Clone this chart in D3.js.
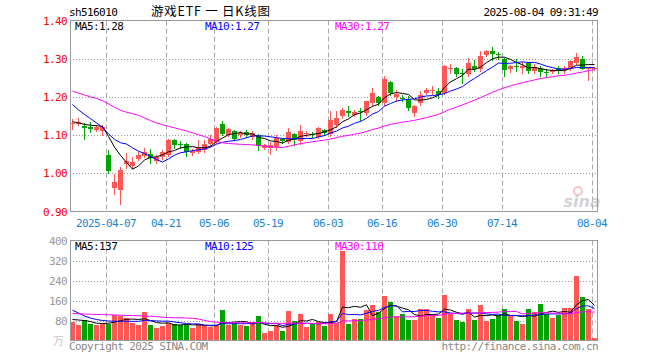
<!DOCTYPE html>
<html><head><meta charset="utf-8">
<script src="https://cdn.jsdelivr.net/npm/d3@7"></script>
<style>body{margin:0;background:#fff}</style>
</head><body>
<script>
const dates = ["03-27","03-28","03-31","04-01","04-02","04-03","04-07","04-08","04-09","04-10","04-11","04-14","04-15","04-16","04-17","04-18","04-21","04-22","04-23","04-24","04-25","04-28","04-29","04-30","05-06","05-07","05-08","05-09","05-12","05-13","05-14","05-15","05-16","05-19","05-20","05-21","05-22","05-23","05-26","05-27","05-28","05-29","05-30","06-03","06-04","06-05","06-06","06-09","06-10","06-11","06-12","06-13","06-16","06-17","06-18","06-19","06-20","06-23","06-24","06-25","06-26","06-27","06-30","07-01","07-02","07-03","07-04","07-07","07-08","07-09","07-10","07-11","07-14","07-15","07-16","07-17","07-18","07-21","07-22","07-23","07-24","07-25","07-28","07-29","07-30","07-31","08-01","08-04"];
const opens = [1.130,1.130,1.123,1.120,1.114,1.111,1.048,0.962,0.956,1.025,1.018,1.037,1.046,1.050,1.031,1.043,1.049,1.086,1.077,1.077,1.053,1.055,1.061,1.077,1.082,1.130,1.101,1.111,1.099,1.108,1.094,1.101,1.067,1.066,1.068,1.089,1.083,1.103,1.084,1.103,1.104,1.096,1.114,1.102,1.126,1.149,1.164,1.153,1.163,1.158,1.184,1.199,1.185,1.238,1.201,1.198,1.195,1.157,1.184,1.211,1.215,1.216,1.210,1.274,1.276,1.263,1.259,1.282,1.272,1.309,1.320,1.312,1.300,1.272,1.281,1.276,1.288,1.267,1.276,1.266,1.265,1.276,1.270,1.276,1.290,1.300,1.273,1.274];
const highs = [1.142,1.145,1.131,1.133,1.127,1.127,1.061,0.999,1.017,1.052,1.042,1.057,1.066,1.064,1.048,1.060,1.090,1.090,1.085,1.080,1.063,1.088,1.088,1.100,1.121,1.136,1.119,1.113,1.110,1.113,1.112,1.103,1.076,1.082,1.101,1.092,1.118,1.106,1.127,1.112,1.107,1.121,1.116,1.162,1.162,1.170,1.175,1.165,1.172,1.190,1.224,1.202,1.256,1.241,1.217,1.204,1.202,1.180,1.215,1.222,1.229,1.224,1.283,1.287,1.278,1.274,1.302,1.296,1.320,1.323,1.330,1.317,1.303,1.283,1.298,1.292,1.292,1.285,1.282,1.272,1.274,1.280,1.280,1.297,1.316,1.307,1.277,1.277];
const lows = [1.116,1.127,1.090,1.109,1.112,1.101,1.002,0.945,0.920,1.015,1.013,1.035,1.042,1.028,1.027,1.037,1.046,1.065,1.066,1.046,1.048,1.052,1.057,1.071,1.080,1.101,1.098,1.088,1.095,1.094,1.090,1.062,1.063,1.050,1.061,1.080,1.079,1.075,1.078,1.097,1.095,1.093,1.100,1.098,1.122,1.146,1.149,1.150,1.137,1.152,1.178,1.178,1.180,1.205,1.190,1.189,1.167,1.151,1.180,1.207,1.207,1.196,1.207,1.263,1.255,1.237,1.254,1.267,1.267,1.307,1.297,1.299,1.256,1.266,1.268,1.262,1.263,1.263,1.254,1.254,1.262,1.262,1.262,1.270,1.287,1.272,1.244,1.271];
const closes = [1.131,1.135,1.118,1.117,1.122,1.120,1.006,0.977,1.009,1.032,1.030,1.048,1.056,1.040,1.042,1.055,1.088,1.073,1.075,1.055,1.059,1.070,1.077,1.091,1.119,1.104,1.115,1.091,1.105,1.099,1.106,1.072,1.073,1.074,1.093,1.084,1.109,1.086,1.112,1.105,1.099,1.119,1.106,1.140,1.145,1.165,1.157,1.161,1.161,1.188,1.209,1.185,1.246,1.210,1.208,1.196,1.172,1.176,1.205,1.218,1.217,1.205,1.280,1.276,1.261,1.260,1.288,1.273,1.308,1.319,1.311,1.310,1.271,1.280,1.279,1.281,1.267,1.279,1.264,1.264,1.271,1.268,1.276,1.294,1.305,1.274,1.275,1.275];
const volumes = [74,61,81,68,61,68,68,101,97,91,71,61,115,61,51,57,71,68,64,61,51,68,61,54,61,121,61,71,64,58,74,97,32,37,61,37,117,77,105,54,68,74,58,105,71,358,65,85,85,121,141,115,177,155,97,105,81,81,128,125,104,91,181,108,81,73,125,81,141,79,85,104,128,104,77,65,125,115,148,108,91,101,132,132,257,175,125,11];
// moving-average values before enough history exists
const ma5Head = [1.135,1.132,1.128,1.126];
const ma10Head = [1.180,1.166,1.154,1.143,1.132,1.121,1.103,1.089,1.080];
const ma30Head = [1.215,1.210,1.205,1.200,1.196,1.190,1.182,1.173,1.165,1.160,1.156,1.152,1.145,1.138,1.132,1.127,1.123,1.119,1.115,1.111,1.106,1.101,1.096,1.090,1.084,1.080,1.078,1.077,1.076];
const vma5Head = [84,82,80,76];
const vma10Head = [121,110,98,90,84,80,78,77,77];
const vma30Head = [108,107,106,105,104,104,103,102,101,100,100,99,98,97,96,93,92,91,91,90,89,86,80,76,73,72,71,71,71];
const priceTicks = [0.9,1.0,1.1,1.2,1.3,1.4];
const volTicks = [80,160,240,320,400];
const tickDates = ["04-07","04-21","05-06","05-19","06-03","06-16","06-30","07-14","08-04"];
const priceMaLabels = ["MA5:1.28","MA10:1.27","MA30:1.27"];
const volMaLabels = ["MA5:137","MA10:125","MA30:110"];

const RED = "#ff5656", GREEN = "#00a400";
const MA_COLORS = ["#000000","#0000ff","#ff00ff"];
const MONO = "'DejaVu Sans Mono', monospace";
const n = dates.length;
const L = 70, R = 598, PT = 20.5, PB = 211.5, VT = 240.5, VB = 340.5;

function movingAvg(vals, k, head) {
  return vals.map((v, i) => i < k - 1 ? head[i] : d3.mean(vals.slice(i - k + 1, i + 1)));
}

const svg = d3.select("body").append("svg").attr("width", 660).attr("height", 360);
const xb = d3.scaleBand().domain(dates).range([L, R]).padding(0);
const y = d3.scaleLinear().domain([0.9, 1.4]).range([PB, PT]);
const yv = d3.scaleLinear().domain([0, 400]).range([VB, VT]);
const cx = d => xb(d) + 2.5;

// grids
const grid = svg.append("g");
grid.selectAll("line.hp").data(priceTicks.slice(1, -1)).join("line")
  .attr("x1", L).attr("x2", R).attr("y1", d => Math.round(y(d)) + 0.5).attr("y2", d => Math.round(y(d)) + 0.5)
  .attr("stroke", "#999").attr("stroke-dasharray", "1,2");
grid.selectAll("line.hv").data(volTicks.slice(0, -1)).join("line")
  .attr("x1", L).attr("x2", R).attr("y1", d => Math.round(yv(d)) + 0.5).attr("y2", d => Math.round(yv(d)) + 0.5)
  .attr("stroke", "#999").attr("stroke-dasharray", "1,2");
[[PT, PB], [VT, VB]].forEach(([a, b]) => {
  grid.append("g").selectAll("line").data(tickDates).join("line")
    .attr("x1", d => xb(d) + 0.5).attr("x2", d => xb(d) + 0.5).attr("y1", a).attr("y2", b)
    .attr("stroke", "#aaa").attr("stroke-dasharray", "5,3");
});

// watermark
const wm = svg.append("g").attr("opacity", 0.6);
wm.append("text").attr("x", 582).attr("y", 207).attr("text-anchor", "middle")
  .attr("font-family", "'DejaVu Sans', sans-serif").attr("font-style", "italic").attr("font-weight", "bold")
  .attr("font-size", 16).attr("fill", "#b8b8b8").text("sina");
wm.append("circle").attr("cx", 578).attr("cy", 191).attr("r", 4).attr("fill", "none").attr("stroke", "#f0a0a0").attr("stroke-width", 2);

// candles
const idx = d3.range(n);
const col = i => closes[i] >= opens[i] ? RED : GREEN;
const cg = svg.append("g");
cg.selectAll("line").data(idx).join("line")
  .attr("x1", i => cx(dates[i])).attr("x2", i => cx(dates[i]))
  .attr("y1", i => Math.round(y(highs[i]))).attr("y2", i => Math.round(y(lows[i])) + 1)
  .attr("stroke", col);
cg.selectAll("rect").data(idx).join("rect")
  .attr("x", i => xb(dates[i])).attr("width", 5)
  .attr("y", i => Math.round(y(Math.max(opens[i], closes[i]))))
  .attr("height", i => Math.max(1, Math.round(y(Math.min(opens[i], closes[i]))) - Math.round(y(Math.max(opens[i], closes[i])))))
  .attr("fill", col);

// volume bars
svg.append("g").selectAll("rect").data(idx).join("rect")
  .attr("x", i => xb(dates[i])).attr("width", 5)
  .attr("y", i => Math.round(yv(volumes[i])))
  .attr("height", i => 340 - Math.round(yv(volumes[i])))
  .attr("fill", col);

// MA lines
const pMA = [movingAvg(closes, 5, ma5Head), movingAvg(closes, 10, ma10Head), movingAvg(closes, 30, ma30Head)];
const vMA = [movingAvg(volumes, 5, vma5Head), movingAvg(volumes, 10, vma10Head), movingAvg(volumes, 30, vma30Head)];
[[pMA, y], [vMA, yv]].forEach(([arrs, sc]) => {
  arrs.forEach((arr, k) => {
    const line = d3.line().x((d, i) => cx(dates[i])).y(d => sc(d));
    svg.append("path").attr("d", line(arr)).attr("fill", "none").attr("stroke", MA_COLORS[k]).attr("stroke-width", 1);
  });
});

// frames
svg.append("rect").attr("x", L + 0.5).attr("y", PT).attr("width", R - L - 1).attr("height", PB - PT).attr("fill", "none").attr("stroke", "#999");
svg.append("rect").attr("x", L + 0.5).attr("y", VT).attr("width", R - L - 1).attr("height", VB - VT).attr("fill", "none").attr("stroke", "#999");

// axes
const styleAxis = (g, color) => {
  g.select(".domain").remove();
  g.selectAll(".tick line").remove();
  g.selectAll("text").attr("font-family", MONO).attr("font-size", 11).attr("letter-spacing", "-0.6px").attr("fill", color);
};
svg.append("g").attr("transform", `translate(${L},0)`)
  .call(d3.axisLeft(y).tickValues(priceTicks).tickFormat(d3.format(".2f")).tickSize(0).tickPadding(3))
  .call(g => styleAxis(g, "#ff0000"));
svg.append("g").attr("transform", `translate(${L},0)`)
  .call(d3.axisLeft(yv).tickValues(volTicks).tickFormat(d3.format("d")).tickSize(0).tickPadding(3))
  .call(g => styleAxis(g, "#999"));
const xAxisScale = xb.copy().range([L - 3, R - 3]);
svg.append("g").attr("transform", `translate(0,${PB + 6})`)
  .call(d3.axisBottom(xAxisScale).tickValues(tickDates).tickFormat(d => d === "04-07" ? "2025-" + d : d).tickSize(0).tickPadding(0))
  .call(g => styleAxis(g, "#1a84d0"))
  .call(g => g.selectAll("text").attr("dy", "0.9em"))
  .call(g => g.selectAll(".tick").filter(d => d === "08-04").select("text").attr("text-anchor", "end").attr("x", 15));
svg.append("text").attr("x", 64).attr("y", 345).attr("text-anchor", "end").attr("font-family", "'Noto Sans CJK SC'")
  .attr("font-size", 11).attr("fill", "#c8c8c8").text("万");

// MA labels
const labX = [75, 205, 335];
priceMaLabels.forEach((t, k) => svg.append("text").attr("x", labX[k]).attr("y", 30).attr("font-family", MONO).attr("font-size", 11)
  .attr("letter-spacing", "-0.6px").attr("fill", MA_COLORS[k]).text(t));
volMaLabels.forEach((t, k) => svg.append("text").attr("x", labX[k]).attr("y", 250).attr("font-family", MONO).attr("font-size", 11)
  .attr("letter-spacing", "-0.6px").attr("fill", MA_COLORS[k]).text(t));

// header
svg.append("text").attr("x", 69).attr("y", 16).attr("font-family", MONO).attr("font-size", 11).attr("letter-spacing", "-0.6px").text("sh516010");
svg.append("text").attr("x", 151).attr("y", 16).attr("font-family", "'Noto Sans CJK SC'").attr("font-size", 12.5)
  .attr("textLength", 119).attr("lengthAdjust", "spacing").text("游戏ETF 一 日K线图");
svg.append("text").attr("x", 598).attr("y", 16).attr("text-anchor", "end").attr("font-family", MONO).attr("font-size", 11).attr("letter-spacing", "-0.6px").text("2025-08-04 09:31:49");

// footer
svg.append("text").attr("x", 69).attr("y", 350).attr("font-family", MONO).attr("font-size", 11).attr("letter-spacing", "-0.6px").attr("fill", "#888").text("Copyright 2025 SINA.COM");
svg.append("text").attr("x", 598).attr("y", 350).attr("text-anchor", "end").attr("font-family", MONO).attr("font-size", 11).attr("letter-spacing", "-0.6px").attr("fill", "#888").text("http://finance.sina.com.cn");
</script>
</body></html>
